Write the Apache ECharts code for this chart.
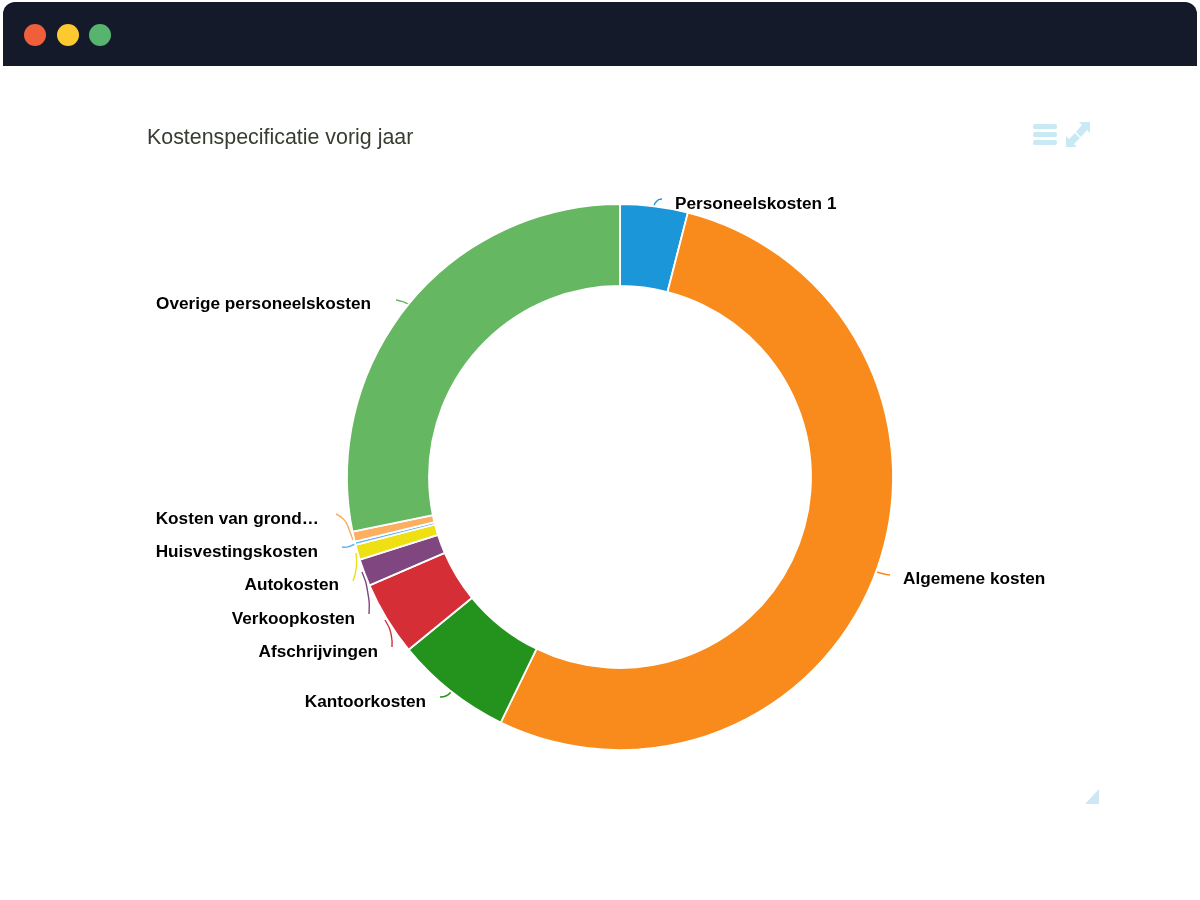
<!DOCTYPE html>
<html>
<head>
<meta charset="utf-8">
<title>Kostenspecificatie vorig jaar</title>
<script src="https://cdn.jsdelivr.net/npm/echarts@6/dist/echarts.min.js"></script>
<style>
  html, body { margin: 0; padding: 0; background: #fff; }
  #chart { width: 1200px; height: 900px; }
</style>
</head>
<body>
<div id="chart"></div>
<script>
// kostenposten, met de klok mee vanaf boven
var categories = ['Personeelskosten 1', 'Algemene kosten', 'Kantoorkosten', 'Afschrijvingen', 'Verkoopkosten',
  'Autokosten', 'Huisvestingskosten', 'Kosten van grond…', 'Overige personeelskosten'];
var values = [4.0, 53.2, 6.9, 4.4, 1.6, 0.9, 0.2, 0.6, 28.2];
var colors = ['#1b96d8', '#f98b1c', '#23931d', '#d62e36', '#804680', '#efe013', '#63b3ec', '#fdae61', '#65b762'];

// plek van de labels: x, y, uitlijning
var labelSpots = [
  [675, 204, 'left'], [903, 579, 'left'], [426, 702, 'right'], [378, 652, 'right'], [355, 619, 'right'],
  [339, 585, 'right'], [318, 552, 'right'], [319, 519, 'right'], [371, 304, 'right']
];
// korte gebogen lijntjes bij de labels
var connectors = [
  [[654, 207], [655, 200], [662, 199]],
  [[877, 572], [883, 574], [890, 575]],
  [[440, 697], [447, 697], [451, 692]],
  [[392, 647], [393, 634], [385, 620]],
  [[369, 614], [370, 592], [362, 572]],
  [[353, 581], [358, 568], [356, 553]],
  [[342, 547], [347, 548], [357, 543]],
  [[336, 514], [345, 518], [353, 540]],
  [[396, 300], [403, 301], [410, 305]]
];

var chart = echarts.init(document.getElementById('chart'));

var seriesData = categories.map(function (name, i) {
  return { name: name, value: values[i], itemStyle: { color: colors[i] } };
});

var option = {
  animation: false,
  title: {
    text: 'Kostenspecificatie vorig jaar',
    left: 142,
    top: 123,
    textStyle: { fontFamily: 'Liberation Sans', fontSize: 21.4, fontWeight: 'normal', color: '#373d30' }
  },
  series: [{
    type: 'pie',
    center: [620, 477],
    radius: [191, 273],
    startAngle: 90,
    clockwise: true,
    avoidLabelOverlap: false,
    silent: true,
    itemStyle: { borderColor: '#fff', borderWidth: 1.8 },
    label: { show: true, formatter: '{b}', fontFamily: 'Liberation Sans', fontSize: 17.2, fontWeight: 'bold', color: '#000' },
    labelLine: { show: true, smooth: 0.5, lineStyle: { width: 1.4 } },
    labelLayout: function (params) {
      var spot = labelSpots[params.dataIndex];
      return {
        x: spot[0],
        y: spot[1],
        align: spot[2],
        verticalAlign: 'middle',
        hideOverlap: false,
        labelLinePoints: connectors[params.dataIndex]
      };
    },
    data: seriesData
  }],
  graphic: [
    // venster balk
    { type: 'rect', shape: { x: 3, y: 2, width: 1194, height: 64, r: [12, 12, 0, 0] }, style: { fill: '#151a2b' } },
    { type: 'circle', shape: { cx: 35, cy: 35, r: 11 }, style: { fill: '#ef5f3c' } },
    { type: 'circle', shape: { cx: 68, cy: 35, r: 11 }, style: { fill: '#fdc92e' } },
    { type: 'circle', shape: { cx: 100, cy: 35, r: 11 }, style: { fill: '#57b46e' } },
    // menu icoon
    { type: 'rect', shape: { x: 1033, y: 124, width: 24, height: 5, r: 2 }, style: { fill: '#c9e9f5' } },
    { type: 'rect', shape: { x: 1033, y: 132, width: 24, height: 5, r: 2 }, style: { fill: '#c9e9f5' } },
    { type: 'rect', shape: { x: 1033, y: 140, width: 24, height: 5, r: 2 }, style: { fill: '#c9e9f5' } },
    // vergroot icoon
    { type: 'polygon', shape: { points: [[1090, 122], [1090, 133], [1087, 130], [1081, 137], [1076, 132], [1082, 125], [1079, 122]] }, style: { fill: '#c9e9f5' } },
    { type: 'polygon', shape: { points: [[1066, 147], [1066, 136], [1069, 139], [1075, 133], [1080, 138], [1074, 144], [1077, 147]] }, style: { fill: '#c9e9f5' } },
    // hoekje rechtsonder
    { type: 'polygon', shape: { points: [[1099, 789], [1099, 804], [1085, 804]] }, style: { fill: '#cfe6f5' } }
  ]
};

chart.setOption(option);
</script>
</body>
</html>
